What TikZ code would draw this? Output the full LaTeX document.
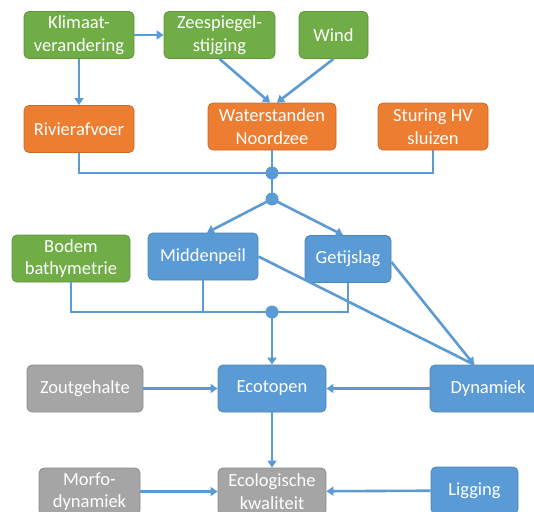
\documentclass[tikz,border=0pt]{standalone}
\usepackage{fontspec}
\setmainfont{Carlito}
\usetikzlibrary{arrows.meta}

\definecolor{boxgreen}{HTML}{70AD47}
\definecolor{boxorange}{HTML}{ED7D31}
\definecolor{boxblue}{HTML}{5B9BD5}
\definecolor{boxgray}{HTML}{A5A5A5}

\tikzset{
  box/.style={rounded corners=5pt, minimum height=47pt, align=center, text=white,
    line width=0.8pt, inner sep=2pt, font=\fontsize{18.5}{22.5}\selectfont},
  greenbox/.style={box, fill=boxgreen, draw=boxgreen!85!black},
  orangebox/.style={box, fill=boxorange, draw=boxorange!85!black},
  bluebox/.style={box, fill=boxblue, draw=boxblue!85!black},
  graybox/.style={box, fill=boxgray, draw=boxgray!85!black},
  link/.style={draw=boxblue, line width=2.6pt},
  arr/.style={link, -{Triangle[width=9pt,length=7pt]}},
  knot/.style={circle, fill=boxblue, inner sep=0pt, minimum size=13pt}
}

\begin{document}
\begin{tikzpicture}[x=1pt, y=-1pt]
    \useasboundingbox (0,0) rectangle (534,511);
    \clip (0,0) rectangle (534,511);

    % drivers
    \node[greenbox, minimum width=110pt] (klimaat) at (79,35) {Klimaat-\\verandering};
    \node[greenbox, minimum width=111pt] (zeespiegel) at (219.5,35) {Zeespiegel-\\stijging};
    \node[greenbox, minimum width=69pt] (wind) at (333.5,35) {Wind};

    \node[orangebox, minimum width=110pt] (rivier) at (79,129) {Rivierafvoer};
    \node[orangebox, minimum width=128pt] (waterstand) at (272,126.5) {Waterstanden\\Noordzee};
    \node[orangebox, minimum width=110pt] (sturing) at (433,126.5) {Sturing HV\\sluizen};

    \node[knot] (k1) at (272,173) {};
    \node[knot] (k2) at (272,199) {};

    \node[greenbox, minimum width=118pt] (bodem) at (71,258.5) {Bodem\\bathymetrie};
    \node[bluebox, minimum width=110pt] (midden) at (203,256.5) {Middenpeil};
    \node[bluebox, minimum width=86pt] (getij) at (348,259) {Getijslag};

    \node[knot] (k3) at (272,312) {};

    \node[graybox, minimum width=116pt] (zout) at (85,388.5) {Zoutgehalte};
    \node[bluebox, minimum width=108pt] (ecotopen) at (272,388.5) {Ecotopen};
    \node[bluebox, minimum width=116pt] (dynamiek) at (488,388.5) {Dynamiek};

    \node[graybox, minimum width=101pt] (morfo) at (89.5,491.5) {Morfo-\\dynamiek};
    \node[graybox, minimum width=108pt] (ecokwal) at (272,491.5) {Ecologische\\kwaliteit};
    \node[bluebox, minimum width=87pt] (ligging) at (474.5,490.5) {Ligging};

    \coordinate (dyntop) at (474,0 |- dynamiek.north);

    % connectors
    \draw[arr] (klimaat) -- (zeespiegel);
    \draw[arr] (klimaat) -- (rivier);
    \draw[arr] (zeespiegel.south) -- ([xshift=-2pt]waterstand.north);
    \draw[arr] (wind.south) -- ([xshift=5pt]waterstand.north);

    \draw[link] (rivier.south) |- (k1.center) -| (sturing.south);
    \draw[link] (waterstand.south) -- (k1.center) -- (k2.center);
    \draw[arr] (k2.center) -- ([xshift=4pt]midden.north);
    \draw[arr] (k2.center) -- ([xshift=-5pt]getij.north);

    \draw[link] (bodem.south) |- (k3.center) -| (getij.south);
    \draw[link] (midden.south) -- (midden.south |- k3);
    \draw[arr] (k3.center) -- (ecotopen.north);

    \draw[link] (midden.east) -- (dyntop);
    \draw[arr] ([yshift=-3pt]getij.east) -- (dyntop);

    \draw[arr] (zout) -- (ecotopen);
    \draw[arr] (dynamiek.west) -- (ecotopen.east);
    \draw[arr] (ecotopen) -- (ecokwal);
    \draw[arr] (morfo) -- (ecokwal);
    \draw[arr] (ligging) -- (ecokwal);
\end{tikzpicture}
\end{document}
